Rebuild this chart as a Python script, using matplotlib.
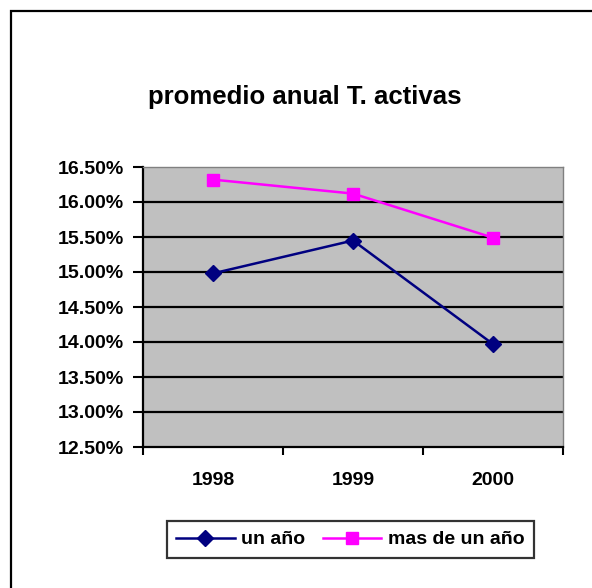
import matplotlib
matplotlib.use("Agg")
import matplotlib.pyplot as plt
from matplotlib.patches import Rectangle
from matplotlib.ticker import FixedLocator, FuncFormatter

plt.rcParams['font.family'] = ['Liberation Sans', 'DejaVu Sans']

years = ["1998", "1999", "2000"]
un_anio = [14.98, 15.45, 13.97]
mas_de_un_anio = [16.32, 16.12, 15.49]
yticks = [12.5, 13.0, 13.5, 14.0, 14.5, 15.0, 15.5, 16.0, 16.5]

W, H = 592, 588
fig = plt.figure(figsize=(W / 100, H / 100), dpi=100)
fig.patch.set_facecolor('white')

# outer chart border (only top & left visible in reference)
fig.patches.append(Rectangle((11 / W, -0.05), 1.2, 1 - 11 / H + 0.05,
                             transform=fig.transFigure, fill=False,
                             edgecolor='black', linewidth=1.6, zorder=0))

left, right, top, bottom = 143, 563, 167, 447
ax = fig.add_axes([left / W, 1 - bottom / H, (right - left) / W, (bottom - top) / H])
ax.set_facecolor('#C0C0C0')

x = list(range(len(years)))
for yv in yticks[1:-1]:
    ax.axhline(yv, color='black', linewidth=1.6, zorder=1)

ax.plot(x, un_anio, color='#000080', linewidth=1.8, marker='D', markersize=8.5,
        markerfacecolor='#000080', markeredgecolor='#000080', label='un año', zorder=3)
ax.plot(x, mas_de_un_anio, color='#FF00FF', linewidth=1.8, marker='s', markersize=9,
        markerfacecolor='#FF00FF', markeredgecolor='#FF00FF', label='mas de un año', zorder=3)

ax.set_xlim(-0.5, 2.5)
ax.set_ylim(12.5, 16.5)

ax.set_yticks(yticks)
ax.yaxis.set_major_formatter(FuncFormatter(lambda v, p: f"{v:.2f}%"))
ax.tick_params(axis='y', direction='out', length=7, width=1.5, pad=7,
               labelsize=14, colors='black')
for lab in ax.get_yticklabels():
    lab.set_fontweight('bold')

ax.set_xticks(x)
ax.set_xticklabels(years, fontsize=14, fontweight='bold')
ax.xaxis.set_minor_locator(FixedLocator([-0.5, 0.5, 1.5, 2.5]))
ax.tick_params(axis='x', which='major', length=0, pad=18)
ax.tick_params(axis='x', which='minor', direction='out', length=6, width=1.5)

ax.spines['left'].set_color('black')
ax.spines['left'].set_linewidth(1.6)
ax.spines['bottom'].set_color('black')
ax.spines['bottom'].set_linewidth(1.6)
ax.spines['top'].set_color('#808080')
ax.spines['top'].set_linewidth(1.0)
ax.spines['right'].set_color('#808080')
ax.spines['right'].set_linewidth(1.0)

fig.text(305 / W, 1 - 97 / H, "promedio anual T. activas", ha='center', va='center',
         fontsize=18.5, fontweight='bold')

leg = fig.legend(loc='center', bbox_to_anchor=(350.5 / W, 1 - 539.5 / H), ncol=2,
                 frameon=True, fancybox=False, shadow=False, handlelength=3.0,
                 columnspacing=0.9, handletextpad=0.35, borderpad=0.5,
                 borderaxespad=0, prop={'size': 14, 'weight': 'bold'})
leg.get_frame().set_edgecolor('black')
leg.get_frame().set_linewidth(1.6)

fig.savefig("out.png", dpi=100)
